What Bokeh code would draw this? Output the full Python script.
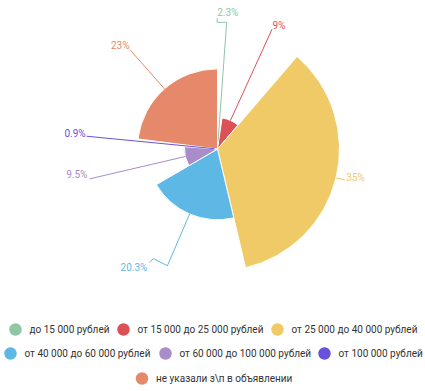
import math
from bokeh.plotting import figure
from bokeh.models import Range1d
from bokeh.core.properties import value
from bokeh.embed import file_html
from bokeh.resources import INLINE

# ---- data ----
categories = [
    "до 15 000 рублей",
    "от 15 000 до 25 000 рублей",
    "от 25 000 до 40 000 рублей",
    "от 40 000 до 60 000 рублей",
    "от 60 000 до 100 000 рублей",
    "от 100 000 рублей",
    "не указали з\\п в объявлении",
]
shares = [2.3, 9, 35, 20.3, 9.5, 0.9, 23]
colors = ["#8fc7a6", "#dc5156", "#efca67", "#5eb8e6", "#a98cca", "#6a50da", "#e6896a"]

# ---- layout (screen pixels) ----
W, H = 425, 391
CX, CY = 217.0, 148.5          # pie centre
RMAX = 122.0                   # outer radius for the biggest value (rose type)
R_END = 131.5                  # radius where leader lines end
# per label: end radius, extra elbow steps, text offset, align
label_layout = [
    dict(r=127, steps=[(-9.5, 0), (0, -4)], off=(0, -5.5), align="left"),
    dict(r=R_END, steps=[], off=(0.5, -3.5), align="left"),
    dict(r=R_END, steps=[], off=(1, -2.5), align="left"),
    dict(r=127, steps=[(-14, -7), (-4, 3.5)], off=(-2, 5), align="right"),
    dict(r=R_END, steps=[], off=(-2, -4.5), align="right"),
    dict(r=R_END, steps=[], off=(-1, -3), align="right"),
    dict(r=R_END, steps=[], off=(-1, -4.5), align="right"),
]
legend_rows_y = [329, 353, 378]
legend_slots = [(0, 15), (0, 123), (0, 277), (1, 10), (1, 165), (1, 324), (2, 141.5)]

FONT = "Roboto"

p = figure(width=W, height=H, output_backend="svg", toolbar_location=None,
           x_range=Range1d(0, W), y_range=Range1d(-H, 0),
           min_border=0, outline_line_color=None)
p.axis.visible = False
p.xgrid.visible = False
p.ygrid.visible = False
p.background_fill_color = "white"
p.border_fill_color = "white"

total = sum(shares)
vmax = max(shares)
acc = 0.0
starts, ends, radii, mids = [], [], [], []
for v in shares:
    a0 = acc / total * 360.0
    acc += v
    a1 = acc / total * 360.0
    starts.append(math.radians(90 - a1))
    ends.append(math.radians(90 - a0))
    radii.append(v / vmax * RMAX)
    mids.append(math.radians((a0 + a1) / 2))

p.wedge(x=[CX] * len(shares), y=[-CY] * len(shares), radius=radii,
        start_angle=starts, end_angle=ends, direction="anticlock",
        fill_color=colors, line_color="white", line_width=1)

# leader lines and labels
for i, v in enumerate(shares):
    lay = label_layout[i]
    dx, dy = math.sin(mids[i]), -math.cos(mids[i])   # screen direction
    sx0, sy0 = CX + radii[i] * dx, CY + radii[i] * dy
    sx1, sy1 = CX + lay["r"] * dx, CY + lay["r"] * dy
    xs, ys = [sx0, sx1], [sy0, sy1]
    for (ex, ey) in lay["steps"]:
        xs.append(xs[-1] + ex)
        ys.append(ys[-1] + ey)
    p.line(x=xs, y=[-y for y in ys], line_color=colors[i], line_width=1)
    tx, ty = xs[-1] + lay["off"][0], ys[-1] + lay["off"][1]
    p.text(x=[tx], y=[-ty], text=[f"{v:g}%"], text_color=colors[i],
           text_font=value(FONT), text_font_size="10px",
           text_align=lay["align"], text_baseline="middle")

# legend
for i, name in enumerate(categories):
    row, cxl = legend_slots[i]
    cy = legend_rows_y[row]
    p.scatter(x=[cxl], y=[-cy], size=12.5, marker="circle",
              fill_color=colors[i], line_color=None)
    p.text(x=[cxl + 14], y=[-cy], text=[name], text_color="#333333",
           text_font=value(FONT), text_font_size="10px",
           text_align="left", text_baseline="middle")

open("out.html", "w").write(file_html(p, INLINE))
